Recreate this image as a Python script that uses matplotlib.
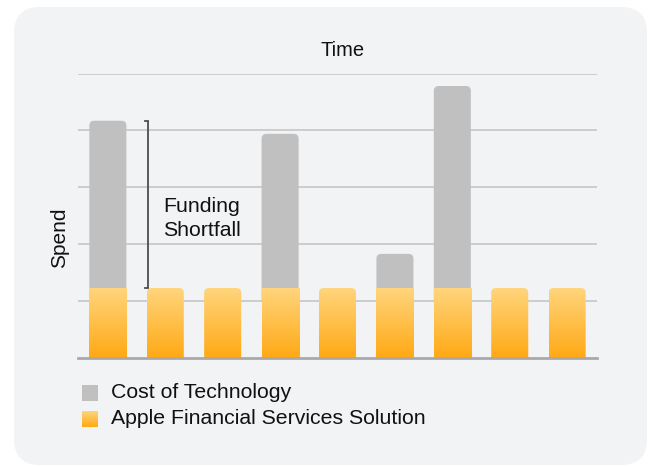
import numpy as np
import matplotlib
matplotlib.use('Agg')
import matplotlib.pyplot as plt
from matplotlib.patches import FancyBboxPatch, Rectangle
from matplotlib.colors import to_rgb

plt.rcParams['font.family'] = ['Liberation Sans', 'DejaVu Sans']

# data (spend units, one bar per period)
periods = np.arange(9)
solution = [1.23, 1.23, 1.23, 1.23, 1.23, 1.23, 1.23, 1.23, 1.23]
cost_total = [4.17, 1.23, 1.23, 3.94, 1.23, 1.83, 4.78, 1.23, 1.23]
y_ticks = [0, 1, 2, 3, 4, 5]

# colours
panel_color = '#f2f3f5'
gray = '#c0c0c0'
orange_top = '#ffd57d'
orange_bottom = '#ffa914'
grid_color = '#c9c9cc'
text_color = '#111111'

W, H = 648, 466


def gradient(n=256):
    top = np.array(to_rgb(orange_top))
    bot = np.array(to_rgb(orange_bottom))
    t = np.linspace(0, 1, n)[:, None]
    return (top * (1 - t) + bot * t)[:, None, :]


fig = plt.figure(figsize=(W / 100, H / 100), dpi=100)

# background axes in pixel coordinates (panel, labels, legend)
bg = fig.add_axes([0, 0, 1, 1], zorder=0)
bg.set_xlim(0, W)
bg.set_ylim(H, 0)
bg.axis('off')
bg.add_patch(FancyBboxPatch((14, 7), 633, 458,
                            boxstyle='round,pad=0,rounding_size=26',
                            facecolor=panel_color, edgecolor='none'))

bg.text(342.5, 50, 'Time', fontsize=14.5, color=text_color,
        ha='center', va='center')
bg.text(60, 238, 'Spend', fontsize=15, color=text_color,
        ha='center', va='center', rotation=90)

# legend
bg.add_patch(Rectangle((82, 385), 16, 16, facecolor=gray, edgecolor='none'))
bg.imshow(gradient(), extent=(82, 98, 427, 411), aspect='auto', zorder=2)
bg.text(111, 393, 'Cost of Technology', fontsize=15.3, color=text_color,
        va='center', ha='left')
bg.text(111, 419, 'Apple Financial Services Solution', fontsize=15.3,
        color=text_color, va='center', ha='left')
bg.set_xlim(0, W)
bg.set_ylim(H, 0)

# main chart axes
left, right, top, bottom = 78, 597, 73.5, 358
ax = fig.add_axes([left / W, (H - bottom) / H, (right - left) / W,
                   (bottom - top) / H], zorder=1)
ax.patch.set_alpha(0)
for s in ax.spines.values():
    s.set_visible(False)
ax.set_xticks([])
ax.set_yticks([])

for yt in y_ticks[1:]:
    ax.axhline(yt, color=grid_color, lw=1.3, zorder=0)
ax.axhline(0, color='#a9a9ab', lw=2, zorder=5, clip_on=False)

width = 0.645
r = 0.085
for x, base, total in zip(periods, solution, cost_total):
    x0 = x - width / 2
    stacked = total > base + 1e-6
    if stacked:
        ax.add_patch(FancyBboxPatch((x0, base - 0.3), width, total - base + 0.3,
                                    boxstyle='round,pad=0,rounding_size=%g' % r,
                                    facecolor=gray, edgecolor='none', zorder=2))
        clip = Rectangle((x0, 0), width, base, transform=ax.transData)
    else:
        clip = FancyBboxPatch((x0, -0.3), width, base + 0.3,
                              boxstyle='round,pad=0,rounding_size=%g' % r,
                              transform=ax.transData)
    im = ax.imshow(gradient(), extent=(x0, x0 + width, 0, base),
                   aspect='auto', zorder=3)
    im.set_clip_path(clip)

# funding shortfall bracket on the first bar
bx = 0.70
ax.plot([bx, bx], [solution[0], cost_total[0]], color='#4d4d4d', lw=1.3,
        zorder=4, solid_capstyle='butt')
for yy in (solution[0], cost_total[0]):
    ax.plot([bx - 0.05, bx], [yy, yy], color='#4d4d4d', lw=1.3, zorder=4)
ax.text(0.96, 2.46, 'Funding\nShortfall', fontsize=15.3, color=text_color,
        ha='left', va='center', linespacing=1.33)

ax.set_xlim(-0.52, 8.52)
ax.set_ylim(0, 5)

fig.savefig('out.png', dpi=100)
